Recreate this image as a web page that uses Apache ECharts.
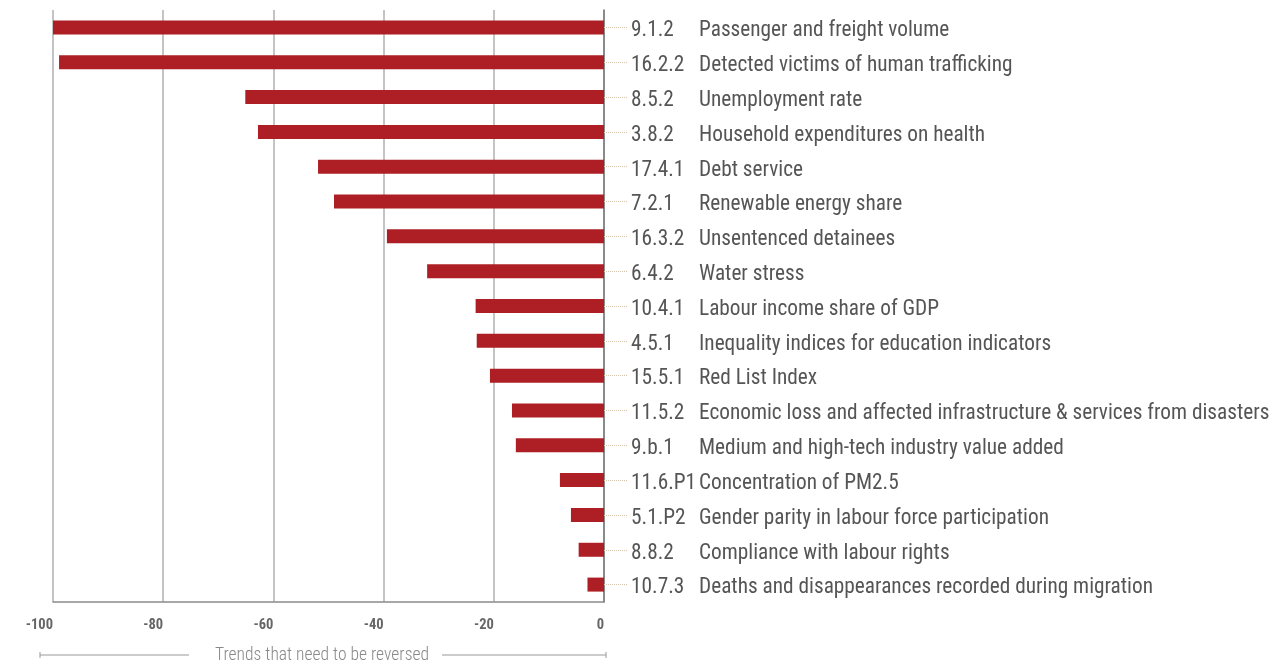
<!DOCTYPE html>
<html>
<head>
<meta charset="utf-8">
<script src="https://cdn.jsdelivr.net/npm/echarts@6/dist/echarts.min.js"></script>
<style>
html,body{margin:0;padding:0;background:#fff;}
#chart{width:1270px;height:666px;}
</style>
</head>
<body>
<div id="chart"></div>
<script>
var codes = ["9.1.2","16.2.2","8.5.2","3.8.2","17.4.1","7.2.1","16.3.2","6.4.2","10.4.1","4.5.1","15.5.1","11.5.2","9.b.1","11.6.P1","5.1.P2","8.8.2","10.7.3"];
var names = ["Passenger and freight volume","Detected victims of human trafficking","Unemployment rate","Household expenditures on health","Debt service","Renewable energy share","Unsentenced detainees","Water stress","Labour income share of GDP","Inequality indices for education indicators","Red List Index","Economic loss and affected infrastructure & services from disasters","Medium and high-tech industry value added","Concentration of PM2.5","Gender parity in labour force participation","Compliance with labour rights","Deaths and disappearances recorded during migration"];
var values = [-100,-98.9,-65.1,-62.8,-51.9,-49.0,-39.4,-32.1,-23.3,-23.1,-20.7,-16.7,-16.0,-8.0,-6.0,-4.6,-3.0];
var xTicks = {min:-100, max:0, interval:20};
var axisTitle = "Trends that need to be reversed";

var FONT = "'Roboto Condensed','Liberation Sans Narrow','DejaVu Sans Condensed',Roboto,sans-serif";
var chart = echarts.init(document.getElementById('chart'));
chart.setOption({
  animation:false,
  backgroundColor:'#fff',
  grid:{left:53,right:666,top:10,bottom:64,containLabel:false,outerBoundsMode:'none'},
  xAxis:{
    type:'value', min:xTicks.min, max:xTicks.max, interval:xTicks.interval,
    axisLine:{show:true,lineStyle:{color:'#8a8a8a',width:1.5}},
    axisTick:{show:false},
    splitLine:{show:true,lineStyle:{color:'#b0b0b0',width:1.5}},
    axisLabel:{align:'right',margin:16,fontSize:14.5,fontWeight:'bold',color:'#666',fontFamily:FONT}
  },
  yAxis:{
    type:'category', inverse:true, position:'right', data:codes,
    axisLine:{show:true,lineStyle:{color:'#777',width:1.5}},
    axisTick:{show:true,alignWithLabel:true,length:24,lineStyle:{color:'#d6c6ad',type:'dotted',width:1}},
    splitLine:{show:false},
    axisLabel:{
      margin:27, align:'left',
      formatter:function(v,i){return '{c|'+codes[i]+'}{n|'+names[i]+'}';},
      rich:{
        c:{width:68,fontSize:21.3,color:'#555',fontFamily:FONT,padding:[7,0,0,0]},
        n:{fontSize:21.3,color:'#555',fontFamily:FONT,padding:[7,0,0,0]}
      }
    }
  },
  series:[{type:'bar',data:values,barWidth:14,itemStyle:{color:'#ad1f24'}}],
  graphic:[
    {type:'line',shape:{x1:40,y1:655,x2:189,y2:655},style:{stroke:'#999',lineWidth:1}},
    {type:'line',shape:{x1:40,y1:652,x2:40,y2:658},style:{stroke:'#999',lineWidth:1}},
    {type:'line',shape:{x1:442,y1:655,x2:606,y2:655},style:{stroke:'#999',lineWidth:1}},
    {type:'line',shape:{x1:606,y1:652,x2:606,y2:658},style:{stroke:'#999',lineWidth:1}},
    {type:'text',x:322,y:656,style:{text:axisTitle,fontSize:17.5,fill:'#888',fontFamily:FONT,fontWeight:300,align:'center',verticalAlign:'middle'}}
  ]
});
</script>
</body>
</html>
